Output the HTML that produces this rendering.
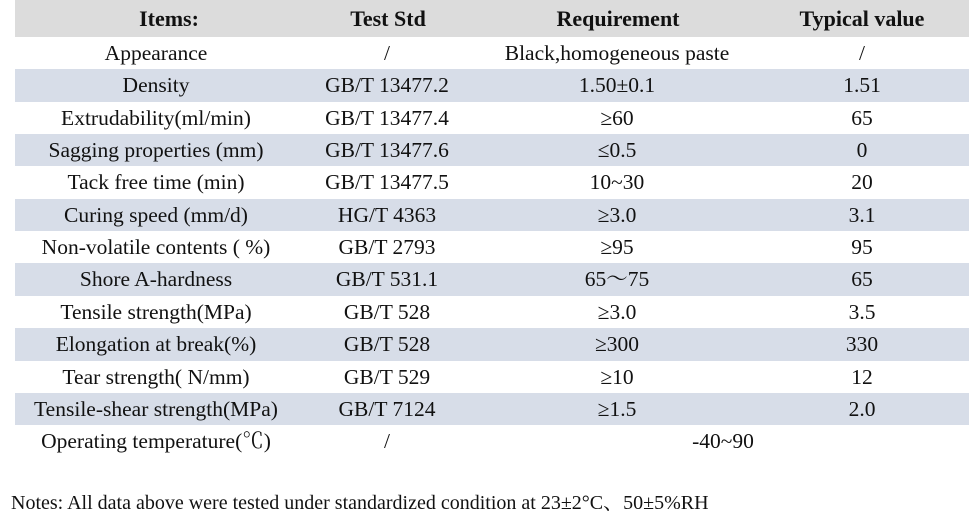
<!DOCTYPE html>
<html><head><meta charset="utf-8"><style>
body{margin:0;width:969px;height:516px;background:#fff;position:relative;overflow:hidden;font-family:"Liberation Serif","Noto Serif CJK SC",serif;color:#111;}
.r{position:absolute;left:15px;width:954px;height:32.4px;}
.t{position:absolute;font-size:21.5px;line-height:33px;white-space:nowrap;transform:translateX(-50%);}
.h .t{font-weight:bold;font-size:22px;line-height:38px;}
</style></head><body>
<div class="r h" style="top:0;height:37px;background:#dcdcdc">
<span class="t" style="left:154px">Items:</span><span class="t" style="left:373px">Test Std</span><span class="t" style="left:603px">Requirement</span><span class="t" style="left:847px">Typical value</span></div>
<div id="rows"></div>
<div style="position:absolute;left:11px;top:486px;font-size:20px;white-space:nowrap">Notes: All data above were tested under standardized condition at 23±2°C、50±5%RH</div>
<script>
var d=[["Appearance","/","Black,homogeneous paste","/"],["Density","GB/T 13477.2","1.50±0.1","1.51"],["Extrudability(ml/min)","GB/T 13477.4","≥60","65"],["Sagging properties (mm)","GB/T 13477.6","≤0.5","0"],["Tack free time (min)","GB/T 13477.5","10~30","20"],["Curing speed (mm/d)","HG/T 4363","≥3.0","3.1"],["Non-volatile contents ( %)","GB/T 2793","≥95","95"],["Shore A-hardness","GB/T 531.1","65～75","65"],["Tensile strength(MPa)","GB/T 528","≥3.0","3.5"],["Elongation at break(%)","GB/T 528","≥300","330"],["Tear strength( N/mm)","GB/T 529","≥10","12"],["Tensile-shear strength(MPa)","GB/T 7124","≥1.5","2.0"]];
var h="",x=[141,372,602,847];
d.forEach(function(r,i){h+='<div class="r" style="top:'+(37+i*32.35)+'px;'+(i%2?'background:#d7dde8':'')+'">';r.forEach(function(c,j){h+='<span class="t" style="left:'+x[j]+'px">'+c+'</span>'});h+='</div>';});
h+='<div class="r" style="top:'+(37+12*32.35)+'px"><span class="t" style="left:141px">Operating temperature(℃)</span><span class="t" style="left:372px">/</span><span class="t" style="left:708px">-40~90</span></div>';
document.getElementById("rows").innerHTML=h;
</script>
</body></html>
